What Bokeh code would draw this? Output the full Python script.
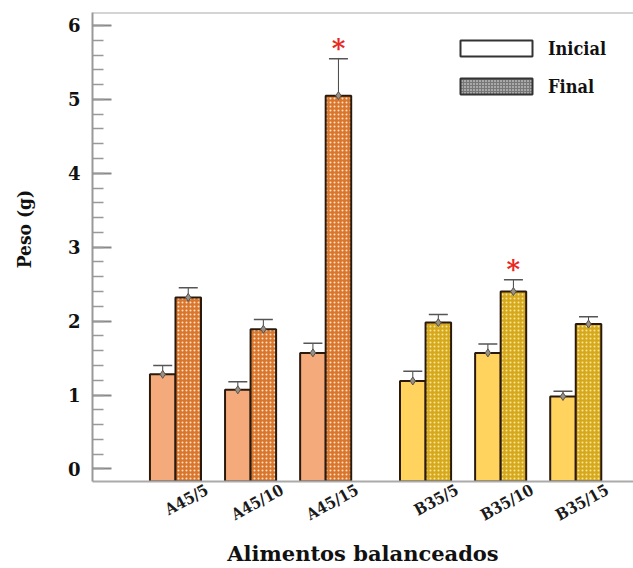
import math
from bokeh.plotting import figure
from bokeh.models import (ColumnDataSource, Range1d, FixedTicker, Whisker, TeeHead,
                          Legend, LegendItem, Span)
from bokeh.core.properties import value
from bokeh.embed import file_html
from bokeh.resources import INLINE

# ---- data ----
groups = ["A45/5", "A45/10", "A45/15", "B35/5", "B35/10", "B35/15"]
family = ["A", "A", "A", "B", "B", "B"]
inicial = [1.28, 1.07, 1.57, 1.19, 1.57, 0.98]
inicial_err = [0.12, 0.11, 0.13, 0.13, 0.12, 0.07]
final = [2.32, 1.89, 5.05, 1.98, 2.40, 1.96]
final_err = [0.13, 0.13, 0.50, 0.11, 0.16, 0.10]
significant = [False, False, True, False, True, False]

# ---- styling ----
SERIF = "DejaVu Serif"
SERIF_C = "DejaVu Serif Condensed"
inicial_colors = {"A": "#F5AA7C", "B": "#FFD35E"}
final_colors = {"A": "#D8762C", "B": "#D6A81C"}
dot_colors = {"A": "#FBE3CF", "B": "#F8E7A0"}
GAP = 0.33
W = 0.34
LABEL_SHIFT = 0.42
Y0, Y1 = -0.17, 6.175

xpos = [i + (GAP if f == "B" else 0.0) for i, f in enumerate(family)]

src_i = ColumnDataSource(dict(
    x=[x - W / 2 for x in xpos], top=inicial,
    lo=[v - e for v, e in zip(inicial, inicial_err)],
    hi=[v + e for v, e in zip(inicial, inicial_err)],
    color=[inicial_colors[f] for f in family]))
src_f = ColumnDataSource(dict(
    x=[x + W / 2 for x in xpos], top=final,
    lo=[v - e for v, e in zip(final, final_err)],
    hi=[v + e for v, e in zip(final, final_err)],
    color=[final_colors[f] for f in family],
    dots=[dot_colors[f] for f in family]))
sig_x = [x + W / 2 for x, s in zip(xpos, significant) if s]
sig_y = [v + e for v, e, s in zip(final, final_err, significant) if s]
src_s = ColumnDataSource(dict(x=sig_x, y=sig_y, t=["*"] * len(sig_x)))

p = figure(width=633, height=568, output_backend="svg", toolbar_location=None,
           x_range=Range1d(-1.105, 6.099), y_range=Range1d(Y0, Y1),
           min_border_left=92, min_border_right=0, min_border_top=12,
           min_border_bottom=87)
p.xgrid.visible = False
p.ygrid.visible = False
p.outline_line_color = None
p.background_fill_color = "white"
p.border_fill_color = "white"

p.vbar(x="x", top="top", bottom=Y0, width=W, source=src_i,
       fill_color="color", line_color="#2a1a0e", line_width=2)
p.vbar(x="x", top="top", bottom=Y0, width=W, source=src_f,
       fill_color="color", line_color="#2a1a0e", line_width=2,
       hatch_pattern="dot", hatch_color="dots", hatch_scale=4, hatch_weight=1.5)

for src in (src_i, src_f):
    wk = Whisker(base="x", upper="hi", lower="lo", source=src,
                 line_color="#444444", line_width=1,
                 upper_head=TeeHead(size=19, line_color="#555555", line_width=1.5),
                 lower_head=TeeHead(size=19, line_color="#777777", line_width=1.5))
    p.add_layout(wk)
    p.scatter(x="x", y="top", source=src, marker="diamond", size=8,
              fill_color="#9a8f80", line_color="#555555", line_width=1)

p.text(x="x", y="y", text="t", source=src_s, text_color="#E8281E",
       text_font=value(SERIF), text_font_style="bold", text_font_size="26px",
       text_align="center", text_baseline="middle", y_offset=-11)

# top frame line
p.add_layout(Span(location=Y1, dimension="width", line_color="#aaaaaa", line_width=2))

# axes
ticks = [x + LABEL_SHIFT for x in xpos]
p.xaxis.ticker = FixedTicker(ticks=ticks)
p.xaxis.major_label_overrides = {t: g for t, g in zip(ticks, groups)}
p.xaxis.major_label_orientation = 0.5
p.xaxis.major_label_text_font = SERIF_C
p.xaxis.major_label_text_font_style = "bold"
p.xaxis.major_label_text_font_size = "16px"
p.xaxis.major_label_text_color = "#1a1a1a"
p.xaxis.major_label_standoff = 7
p.xaxis.major_tick_line_color = None
p.xaxis.minor_tick_line_color = None
p.xaxis.major_tick_out = 0
p.xaxis.major_tick_in = 0
p.xaxis.minor_tick_out = 0
p.xaxis.minor_tick_in = 0
p.xaxis.axis_line_color = "#aaaaaa"
p.xaxis.axis_line_width = 2
p.xaxis.axis_label = "Alimentos balanceados"
p.xaxis.axis_label_text_font = SERIF
p.xaxis.axis_label_text_font_style = "bold"
p.xaxis.axis_label_text_font_size = "21px"
p.xaxis.axis_label_text_color = "#111111"
p.xaxis.axis_label_standoff = 5

p.yaxis.ticker = FixedTicker(ticks=[0, 1, 2, 3, 4, 5, 6],
                             minor_ticks=[i * 0.2 for i in range(0, 31)])
p.yaxis.major_label_text_font = SERIF
p.yaxis.major_label_text_font_style = "bold"
p.yaxis.major_label_text_font_size = "18px"
p.yaxis.major_label_text_color = "#111111"
p.yaxis.major_label_standoff = 12
p.yaxis.major_tick_in = 19
p.yaxis.major_tick_out = 0
p.yaxis.minor_tick_in = 11
p.yaxis.minor_tick_out = 0
p.yaxis.major_tick_line_color = "#888888"
p.yaxis.minor_tick_line_color = "#999999"
p.yaxis.major_tick_line_width = 2
p.yaxis.minor_tick_line_width = 1.5
p.yaxis.axis_line_color = "#999999"
p.yaxis.axis_line_width = 2
p.yaxis.axis_label = "\u00a0" * 6 + "Peso (g)"
p.yaxis.axis_label_text_font = SERIF_C
p.yaxis.axis_label_text_font_style = "bold"
p.yaxis.axis_label_text_font_size = "19px"
p.yaxis.axis_label_text_color = "#111111"
p.yaxis.axis_label_standoff = 30

# legend with placeholder renderers (NaN data, never drawn in the plot)
nan = float("nan")
dummy = ColumnDataSource(dict(x=[nan], top=[nan]))
r_i = p.vbar(x="x", top="top", width=0.1, source=dummy,
             fill_color="white", line_color="#333333", line_width=2)
r_f = p.vbar(x="x", top="top", width=0.1, source=dummy,
             fill_color="#777777", line_color="#333333", line_width=2,
             hatch_pattern="dot", hatch_color="#f4f4f4", hatch_scale=3, hatch_weight=1.5)
legend = Legend(items=[LegendItem(label="Inicial", renderers=[r_i]),
                       LegendItem(label="Final", renderers=[r_f])],
                location=(359, 384), padding=0, margin=0,
                glyph_width=90, glyph_height=20, label_height=22,
                spacing=16, label_standoff=7,
                background_fill_alpha=0, border_line_color=None,
                label_text_font=SERIF_C, label_text_font_style="bold",
                label_text_font_size="18px", label_text_color="#111111")
p.add_layout(legend)

open("out.html", "w").write(file_html(p, INLINE))
